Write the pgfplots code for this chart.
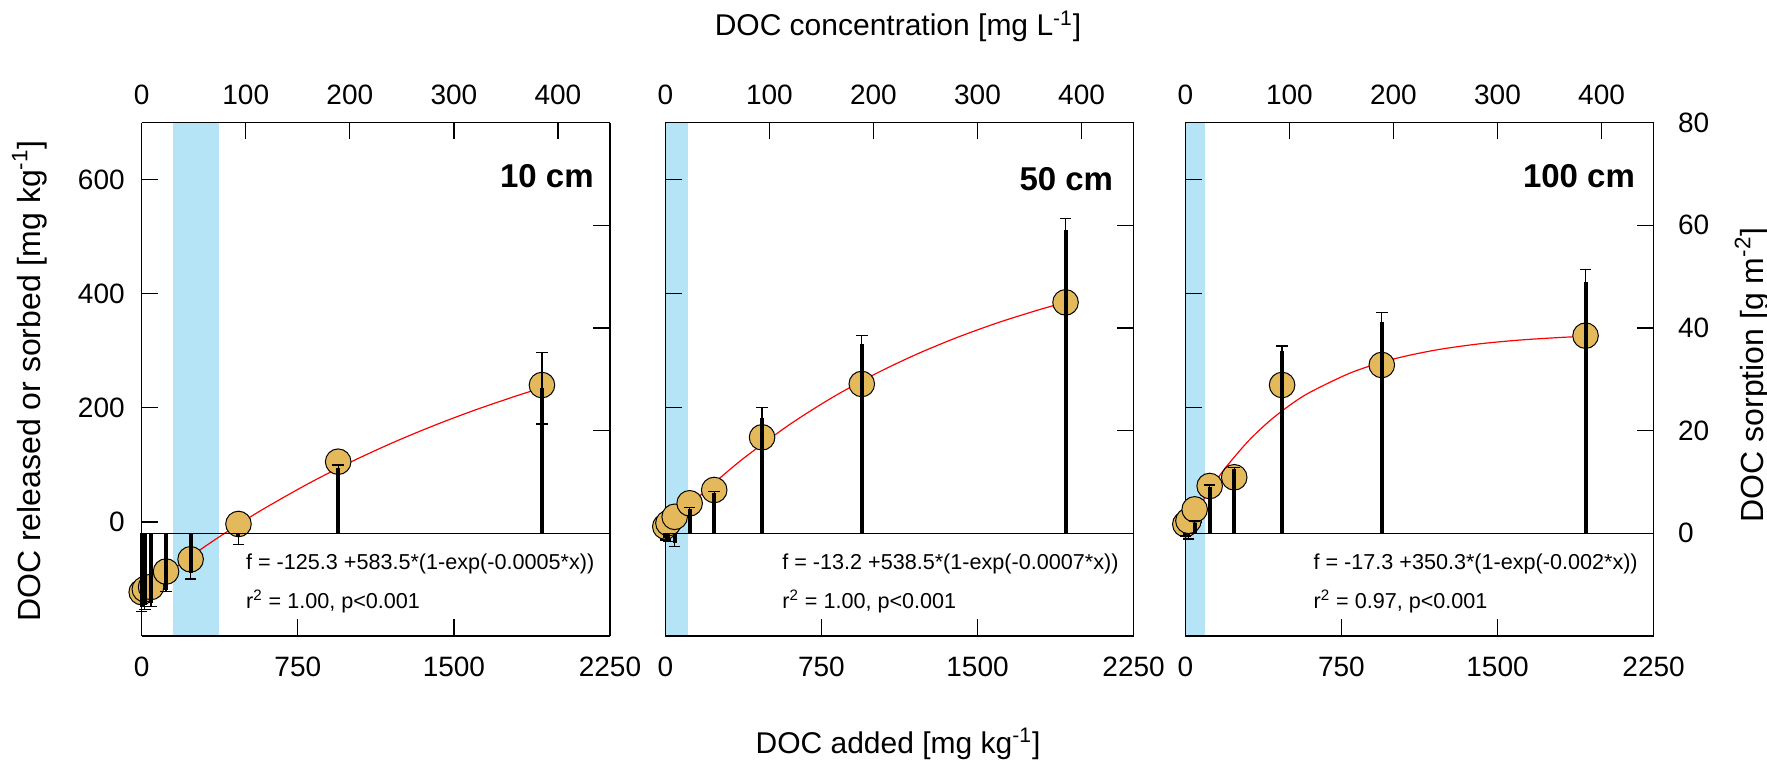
\documentclass[border=0pt]{standalone}
\usepackage{fontspec}
\setmainfont{Liberation Sans}
\usepackage{pgfplots}
\usepackage{pgfplotstable}
\pgfplotsset{compat=1.18}

\definecolor{dotgold}{RGB}{227,185,92}
\definecolor{bandblue}{RGB}{180,228,246}

% circles: DOC released or sorbed [mg/kg]
\pgfplotstableread{
x v
0 -123
15 -118
45 -114
117 -87
235 -65.5
465 -3.6
944 105.6
1923 240
}\ptsA
\pgfplotstableread{
x v
0 -8
15 -2
45 9
117 32.7
235 56
465 148.4
944 241.9
1923 385
}\ptsB
\pgfplotstableread{
x v
0 -4
15 2
45 22
117 63
235 78.3
465 240.1
944 275.2
1923 326.6
}\ptsC

% bars: DOC sorption [g/m2]
\pgfplotstableread{
x r
0 -14.3
15 -14.0
45 -13.6
117 -11.0
235 -7.8
465 -0.8
944 12.7
1923 28.3
}\barsA
\pgfplotstableread{
x r
0 -1.0
15 -1.2
45 -1.9
117 4.7
235 7.9
465 22.4
944 36.9
1923 59.1
}\barsB
\pgfplotstableread{
x r
0 -0.3
15 -0.8
45 2.1
117 9.1
235 12.5
465 35.6
944 41.2
1923 49.0
}\barsC

% error of the bars: away from zero (dn = downward part)
\pgfplotstableread{
x r e
944 12.7 0.6
1923 28.3 7.0
}\upA
\pgfplotstableread{
x r e
0 -14.3 1.0
15 -14.0 0.8
45 -13.6 0.7
117 -11.0 0.4
235 -7.8 1.1
465 -0.8 1.4
1923 28.3 7.0
}\dnA
\pgfplotstableread{
x r e
117 4.7 0.3
235 7.9 0.3
465 22.4 2.1
944 36.9 1.6
1923 59.1 2.3
}\upB
\pgfplotstableread{
x r e
0 -1.0 0.3
15 -1.2 0.4
45 -1.9 0.6
}\dnB
\pgfplotstableread{
x r e
45 2.1 0.3
117 9.1 0.3
235 12.5 0.3
465 35.6 0.9
944 41.2 1.9
1923 49.0 2.4
}\upC
\pgfplotstableread{
x r e
0 -0.3 0.2
15 -0.8 0.3
}\dnC

% fitted curves, tabulated
\pgfplotstableread{
x f
0 -125.3
50 -110.89
100 -96.84
200 -69.77
300 -44.02
400 -19.53
500 3.77
600 25.93
800 67.07
1000 104.29
1200 137.97
1400 168.44
1600 196.02
1800 220.97
1923 235.12
}\fitA
\pgfplotstableread{
x f
0 -13.2
50 5.32
100 23.21
200 57.15
300 88.80
400 118.31
600 171.48
800 217.70
1000 257.89
1200 292.82
1400 323.20
1600 349.60
1800 372.55
1923 385.15
}\fitB
\pgfplotstableread{
x f
0 -17.3
25 -0.22
50 16.04
100 46.20
150 73.49
200 98.19
300 140.75
400 175.60
500 204.13
600 227.49
800 262.28
1000 285.59
1200 301.22
1400 311.70
1600 318.72
1800 323.43
1923 325.51
}\fitC

\pgfplotsset{
  panelbase/.style={
    scale only axis, width=234.15pt, height=256.65pt, anchor=south west,
    xmin=0, xmax=2250, clip=false,
    tick align=inside, major tick length=8.3pt,
    every tick/.style={black, line width=0.6pt},
    axis line style={-, line width=0.6pt},
    tick label style={font=\fontsize{14}{16}\selectfont},
  },
  panellow/.style={
    ymin=-200, ymax=700, axis x line*=bottom, axis y line*=left, axis on top,
    xtick={0,750,1500,2250}, xticklabels={0,750,1500,2250},
    ytick={0,200,400,600},
    xticklabel style={anchor=north, inner sep=0pt, yshift=-10.3pt},
    yticklabel style={anchor=east, inner sep=0pt, xshift=-8.3pt},
  },
  panelright/.style={
    ymin=-20, ymax=80, hide x axis, axis y line*=right,
    ytick={0,20,40,60,80},
    yticklabel style={anchor=west, inner sep=0pt, xshift=12pt},
  },
  paneltop/.style={
    xmin=0, xmax=450, ymin=0, ymax=1, hide y axis, axis x line*=top,
    xtick={0,100,200,300,400}, xticklabels={0,100,200,300,400},
    xticklabel style={anchor=south, inner sep=0pt, yshift=8.8pt},
  },
  dots/.style={only marks, mark=*, mark size=6.4pt,
    mark options={fill=dotgold, draw=black, line width=0.5pt}},
  fitline/.style={red, line width=0.6pt, smooth},
  combs/.style={ycomb, black, line width=2pt, mark=none},
  errs/.style={draw=none, mark=none,
    error bars/.cd, y dir=#1, y explicit,
    error bar style={draw=black, line width=0.6pt},
    error mark options={draw=black, rotate=90, mark size=2.9pt, line width=0.6pt}},
}
\tikzset{
  eqn/.style={anchor=base west, inner sep=0pt, font=\fontsize{10.8}{13}\selectfont},
  depthlab/.style={anchor=base east, inner sep=0pt, font=\bfseries\fontsize{16.5}{19}\selectfont},
}

\begin{document}
\begin{tikzpicture}
\useasboundingbox (0,0) rectangle (883.5pt,381pt);

% ---- 10 cm
\begin{axis}[panelbase, panellow, at={(70.85pt,63pt)}, yticklabels={0,200,400,600}]
  \addplot[draw=none, fill=bandblue] coordinates {(149,-200) (371,-200) (371,700) (149,700)};
  \addplot[fitline] table[x=x, y=f] {\fitA};
  \addplot[dots] table[x=x, y=v] {\ptsA};
  \node[eqn] at (rel axis cs:0.222,0.1286) {f = -125.3 +583.5*(1-exp(-0.0005*x))};
  \node[eqn] at (rel axis cs:0.222,0.054) {r\textsuperscript{2} = 1.00, p<0.001};
  \node[depthlab] at (rel axis cs:0.966,0.874) {10 cm};
\end{axis}
\begin{axis}[panelbase, panelright, at={(70.85pt,63pt)}, yticklabels={,,,,,}]
  \addplot[black, line width=0.6pt] coordinates {(0,0) (2250,0)};
  \addplot[combs] table[x=x, y=r] {\barsA};
  \addplot[errs=plus] table[x=x, y=r, y error=e] {\upA};
  \addplot[errs=minus] table[x=x, y=r, y error=e] {\dnA};
\end{axis}
\begin{axis}[panelbase, paneltop, at={(70.85pt,63pt)}]
\end{axis}

% ---- 50 cm
\begin{axis}[panelbase, panellow, at={(332.65pt,63pt)}, yticklabels={,,,,,}]
  \addplot[draw=none, fill=bandblue] coordinates {(0,-200) (110,-200) (110,700) (0,700)};
  \addplot[fitline] table[x=x, y=f] {\fitB};
  \addplot[dots] table[x=x, y=v] {\ptsB};
  \node[eqn] at (rel axis cs:0.249,0.1286) {f = -13.2 +538.5*(1-exp(-0.0007*x))};
  \node[eqn] at (rel axis cs:0.249,0.054) {r\textsuperscript{2} = 1.00, p<0.001};
  \node[depthlab] at (rel axis cs:0.957,0.8675) {50 cm};
\end{axis}
\begin{axis}[panelbase, panelright, at={(332.65pt,63pt)}, yticklabels={,,,,,}]
  \addplot[black, line width=0.6pt] coordinates {(0,0) (2250,0)};
  \addplot[combs] table[x=x, y=r] {\barsB};
  \addplot[errs=plus] table[x=x, y=r, y error=e] {\upB};
  \addplot[errs=minus] table[x=x, y=r, y error=e] {\dnB};
\end{axis}
\begin{axis}[panelbase, paneltop, at={(332.65pt,63pt)}]
\end{axis}

% ---- 100 cm
\begin{axis}[panelbase, panellow, at={(592.65pt,63pt)}, yticklabels={,,,,,}]
  \addplot[draw=none, fill=bandblue] coordinates {(0,-200) (96,-200) (96,700) (0,700)};
  \addplot[fitline] table[x=x, y=f] {\fitC};
  \addplot[dots] table[x=x, y=v] {\ptsC};
  \node[eqn] at (rel axis cs:0.273,0.1286) {f = -17.3 +350.3*(1-exp(-0.002*x))};
  \node[eqn] at (rel axis cs:0.273,0.054) {r\textsuperscript{2} = 0.97, p<0.001};
  \node[depthlab] at (rel axis cs:0.961,0.874) {100 cm};
\end{axis}
\begin{axis}[panelbase, panelright, at={(592.65pt,63pt)}, yticklabels={0,20,40,60,80}]
  \addplot[black, line width=0.6pt] coordinates {(0,0) (2250,0)};
  \addplot[combs] table[x=x, y=r] {\barsC};
  \addplot[errs=plus] table[x=x, y=r, y error=e] {\upC};
  \addplot[errs=minus] table[x=x, y=r, y error=e] {\dnC};
\end{axis}
\begin{axis}[panelbase, paneltop, at={(592.65pt,63pt)}]
\end{axis}

% shared labels
\node[rotate=90, anchor=base, font=\fontsize{16}{19}\selectfont] at (20pt,190.5pt) {DOC released or sorbed [mg kg\textsuperscript{-1}]};
\node[rotate=90, anchor=base, font=\fontsize{16}{19}\selectfont] at (881.5pt,193.5pt) {DOC sorption [g m\textsuperscript{-2}]};
\node[anchor=base, font=\fontsize{15}{18}\selectfont] at (449pt,363pt) {DOC concentration [mg L\textsuperscript{-1}]};
\node[anchor=base, font=\fontsize{15}{18}\selectfont] at (449pt,4.5pt) {DOC added [mg kg\textsuperscript{-1}]};
\end{tikzpicture}
\end{document}
